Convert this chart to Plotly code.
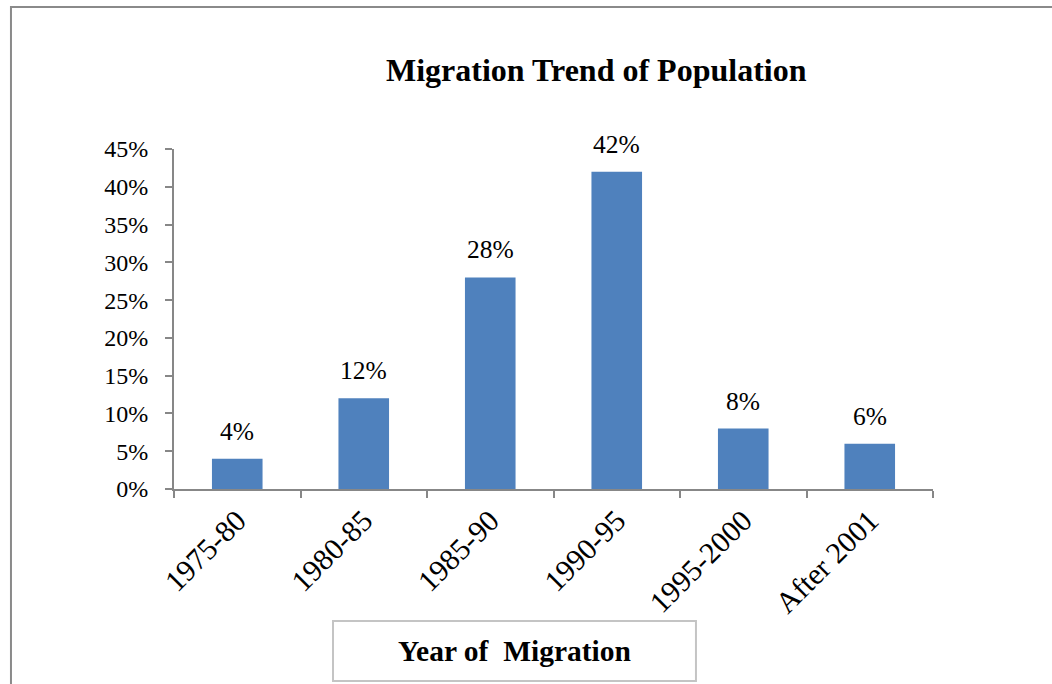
import plotly.graph_objects as go

# Share of migrants by period of migration
periods = ["1975-80", "1980-85", "1985-90", "1990-95", "1995-2000", "After 2001"]
shares = [0.04, 0.12, 0.28, 0.42, 0.08, 0.06]
y_ticks = [0, 0.05, 0.10, 0.15, 0.20, 0.25, 0.30, 0.35, 0.40, 0.45]
y_tick_text = [f"{int(round(v * 100))}%" for v in y_ticks]

SERIF = "Liberation Serif, Times New Roman, serif"
BAR_COLOR = "#4F81BD"
AXIS_COLOR = "#878787"

fig = go.Figure(
    go.Bar(
        x=periods,
        y=shares,
        marker=dict(color=BAR_COLOR, line=dict(width=0)),
        hoverinfo="skip",
    )
)

# value labels above each bar
annotations = [
    dict(
        x=p, y=v, xref="x", yref="y",
        text=f"{int(round(v * 100))}%",
        showarrow=False, yanchor="bottom", yshift=11,
        font=dict(family=SERIF, size=25.5, color="black"),
    )
    for p, v in zip(periods, shares)
]

# chart title
annotations.append(dict(
    x=0.556, y=1.232, xref="paper", yref="paper",
    text="<b>Migration Trend of Population</b>",
    showarrow=False, xanchor="center", yanchor="middle",
    font=dict(family=SERIF, size=32, color="black"),
))

# boxed axis title
annotations.append(dict(
    x=0.449, y=-0.4765, xref="paper", yref="paper",
    text="<b>Year of\u00a0 Migration</b>",
    showarrow=False, xanchor="center", yanchor="middle",
    font=dict(family=SERIF, size=29.5, color="black"),
))

shapes = [
    # outer chart frame
    dict(type="rect", xref="paper", yref="paper",
         x0=-0.2148, x1=1.3, y0=-0.7, y1=1.4176,
         line=dict(color="#8a8a8a", width=2), fillcolor="rgba(0,0,0,0)", layer="below"),
    # box around the axis title
    dict(type="rect", xref="paper", yref="paper",
         x0=0.2095, x1=0.6877, y0=-0.5647, y1=-0.3882,
         line=dict(color="#c4c4c4", width=2), fillcolor="rgba(0,0,0,0)"),
]

fig.update_layout(
    width=1052, height=684,
    margin=dict(l=174, r=119, t=149, b=195),
    paper_bgcolor="white", plot_bgcolor="white",
    bargap=0.6,
    showlegend=False,
    annotations=annotations,
    shapes=shapes,
    font=dict(family=SERIF, color="black"),
)

fig.update_xaxes(
    type="category",
    showline=True, linecolor=AXIS_COLOR, linewidth=2,
    ticks="outside", tickson="boundaries", ticklen=7, tickwidth=2, tickcolor=AXIS_COLOR,
    tickangle=-45, tickfont=dict(family=SERIF, size=30, color="black"),
    showgrid=False, zeroline=False,
)

fig.update_yaxes(
    range=[0, 0.45],
    tickvals=y_ticks, ticktext=y_tick_text,
    showline=True, linecolor=AXIS_COLOR, linewidth=2,
    ticks="outside", ticklen=7, tickwidth=2, tickcolor=AXIS_COLOR,
    tickfont=dict(family=SERIF, size=24, color="black"),
    ticklabelstandoff=12,
    showgrid=False, zeroline=False,
)

fig.write_html("out.html")
